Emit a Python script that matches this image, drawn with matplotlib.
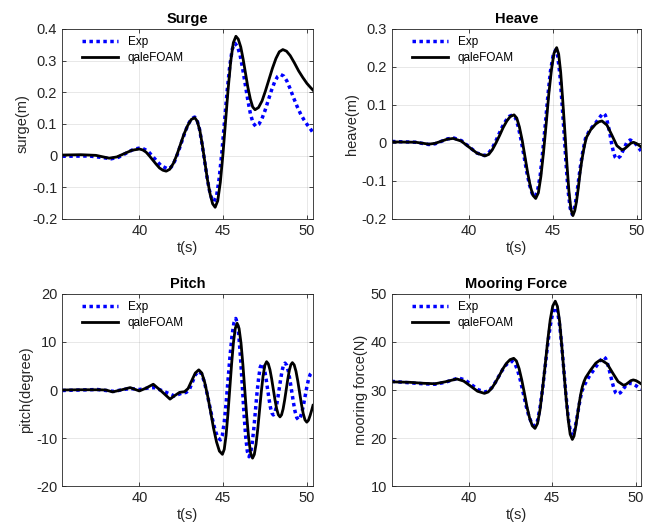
import matplotlib
matplotlib.use('Agg')
import matplotlib.pyplot as plt

plt.rcParams['font.family'] = ['Liberation Sans', 'DejaVu Sans']

# values, (time s, value)
surge_exp = [(35.4, -0.002), (37.0, -0.001), (37.8, -0.006), (38.3, -0.010), (38.75, -0.005),
             (39.2, 0.0075), (39.65, 0.020), (40.1, 0.025), (40.5, 0.015), (40.9, -0.009),
             (41.3, -0.032), (41.7, -0.042), (41.9, -0.036), (42.1, -0.018), (42.3, 0.009),
             (42.5, 0.040), (42.7, 0.071), (42.9, 0.098), (43.1, 0.116), (43.3, 0.122),
             (43.44, 0.112), (43.59, 0.083), (43.73, 0.0395), (43.875, -0.0115), (44.02, -0.0625),
             (44.16, -0.106), (44.31, -0.135), (44.45, -0.145), (44.61, -0.126), (44.76, -0.072),
             (44.92, 0.0095), (45.075, 0.105), (45.23, 0.2005), (45.39, 0.282), (45.54, 0.336),
             (45.7, 0.355), (45.855, 0.345), (46.01, 0.317), (46.165, 0.274), (46.32, 0.224),
             (46.475, 0.174), (46.63, 0.131), (46.785, 0.103), (46.94, 0.093), (47.13, 0.099),
             (47.315, 0.117), (47.5, 0.143), (47.69, 0.1745), (47.88, 0.206), (48.065, 0.232),
             (48.25, 0.250), (48.44, 0.256), (48.62, 0.251), (48.8, 0.236), (49.0, 0.211),
             (49.2, 0.183), (49.4, 0.157), (49.6, 0.134), (49.8, 0.115), (50.0, 0.099),
             (50.2, 0.085), (50.36, 0.073)]
surge_cfd = [(35.4, 0.002), (36.5, 0.003), (37.4, 0.001), (38.2, -0.008), (38.65, -0.004),
             (39.1, 0.0065), (39.55, 0.017), (40.0, 0.021), (40.2, 0.018), (40.4, 0.011),
             (40.6, -0.001), (40.8, -0.014), (41.0, -0.027), (41.2, -0.039), (41.4, -0.046),
             (41.6, -0.049), (41.81, -0.043), (42.03, -0.024), (42.24, 0.003), (42.45, 0.0355),
             (42.66, 0.068), (42.88, 0.095), (43.09, 0.114), (43.3, 0.120), (43.45, 0.109),
             (43.61, 0.079), (43.76, 0.0325), (43.91, -0.0215), (44.06, -0.0756), (44.22, -0.1213),
             (44.37, -0.152), (44.52, -0.163), (44.675, -0.1425), (44.83, -0.084), (44.985, 0.0039),
             (45.14, 0.107), (45.295, 0.2101), (45.45, 0.298), (45.605, 0.3565), (45.76, 0.377),
             (45.9, 0.368), (46.05, 0.343), (46.19, 0.305), (46.33, 0.261), (46.47, 0.217),
             (46.62, 0.179), (46.76, 0.154), (46.9, 0.145), (47.11, 0.152), (47.32, 0.173),
             (47.52, 0.204), (47.73, 0.240), (47.94, 0.276), (48.15, 0.307), (48.35, 0.328),
             (48.56, 0.335), (48.78, 0.330), (49.0, 0.316), (49.25, 0.293), (49.5, 0.268),
             (49.75, 0.247), (50.0, 0.228), (50.2, 0.216), (50.36, 0.207)]

heave_exp = [(35.4, 0.004), (36.8, 0.002), (37.6, -0.004), (37.98, -0.002), (38.35, 0.0045),
             (38.73, 0.011), (39.1, 0.013), (39.55, 0.006), (40.0, -0.010), (40.45, -0.026),
             (40.9, -0.033), (41.11, -0.029), (41.33, -0.017), (41.54, 0.0), (41.75, 0.0205),
             (41.96, 0.041), (42.18, 0.058), (42.39, 0.070), (42.6, 0.074), (42.77, 0.0658),
             (42.93, 0.043), (43.1, 0.0076), (43.27, -0.0335), (43.43, -0.0746), (43.6, -0.110),
             (43.76, -0.133), (43.93, -0.141), (44.08, -0.126), (44.24, -0.085), (44.39, -0.022),
             (44.55, 0.052), (44.7, 0.126), (44.85, 0.189), (45.01, 0.230), (45.16, 0.245),
             (45.28, 0.229), (45.41, 0.182), (45.53, 0.111), (45.66, 0.0285), (45.78, -0.054),
             (45.9, -0.125), (46.03, -0.172), (46.15, -0.188), (46.25, -0.176), (46.35, -0.155),
             (46.45, -0.124), (46.55, -0.090), (46.65, -0.058), (46.75, -0.030), (46.85, -0.007),
             (46.94, 0.012), (47.2, 0.035), (47.5, 0.050), (47.8, 0.068), (47.92, 0.075),
             (48.02, 0.078), (48.12, 0.0734), (48.22, 0.060), (48.32, 0.041), (48.42, 0.018),
             (48.51, -0.005), (48.61, -0.024), (48.71, -0.0374), (48.81, -0.042), (49.01, -0.035),
             (49.21, -0.017), (49.4, 0.001), (49.6, 0.008), (49.8, 0.004), (50.0, -0.006),
             (50.25, -0.021)]
heave_cfd = [(35.4, 0.003), (36.8, 0.002), (37.6, -0.003), (37.96, -0.001), (38.33, 0.0045),
             (38.69, 0.010), (39.05, 0.012), (39.53, 0.005), (40.0, -0.011), (40.48, -0.027),
             (40.95, -0.034), (41.17, -0.030), (41.38, -0.018), (41.6, 0.0), (41.82, 0.020),
             (42.03, 0.0406), (42.25, 0.058), (42.46, 0.070), (42.68, 0.074), (42.84, 0.0656),
             (43.0, 0.042), (43.17, 0.006), (43.33, -0.036), (43.49, -0.078), (43.65, -0.114),
             (43.81, -0.138), (43.97, -0.146), (44.13, -0.131), (44.28, -0.088), (44.44, -0.023),
             (44.6, 0.0525), (44.75, 0.128), (44.91, 0.193), (45.06, 0.236), (45.22, 0.251),
             (45.34, 0.234), (45.46, 0.186), (45.58, 0.114), (45.71, 0.030), (45.83, -0.054),
             (45.95, -0.126), (46.07, -0.174), (46.19, -0.191), (46.3, -0.178), (46.4, -0.155),
             (46.5, -0.122), (46.6, -0.085), (46.7, -0.052), (46.8, -0.025), (46.9, -0.003),
             (47.0, 0.015), (47.25, 0.035), (47.55, 0.050), (47.75, 0.056), (47.92, 0.058),
             (48.22, 0.047), (48.52, 0.020), (48.81, -0.007), (49.11, -0.018), (49.28, -0.015),
             (49.46, -0.008), (49.63, -0.001), (49.8, 0.002), (50.0, -0.002), (50.25, -0.010)]

pitch_exp = [(35.4, -0.1), (36.5, 0.0), (37.5, 0.1), (38.0, -0.1), (38.5, -0.3), (39.0, 0.1),
             (39.5, 0.3), (40.0, 0.1), (40.5, 0.4), (40.9, 0.5), (41.4, -0.2), (42.1, -1.25),
             (42.5, -0.7), (42.8, -0.5), (42.99, 0.14), (43.175, 1.7), (43.36, 3.26), (43.55, 3.9),
             (43.71, 3.36), (43.87, 1.81), (44.03, -0.52), (44.195, -3.25), (44.36, -5.98),
             (44.52, -8.31), (44.68, -9.86), (44.84, -10.4), (44.955, -9.44), (45.07, -6.71),
             (45.185, -2.58), (45.3, 2.25), (45.415, 7.08), (45.53, 11.21), (45.645, 13.94),
             (45.76, 14.9), (45.86, 13.81), (45.955, 10.7), (46.055, 6.0), (46.155, 0.5),
             (46.25, -5.0), (46.35, -9.7), (46.45, -12.8), (46.55, -13.9), (46.65, -13.16),
             (46.74, -11.07), (46.84, -7.91), (46.935, -4.2), (47.03, -0.49), (47.13, 2.67),
             (47.22, 4.76), (47.32, 5.5), (47.405, 5.09), (47.49, 3.94), (47.575, 2.19),
             (47.66, 0.15), (47.745, -1.89), (47.83, -3.64), (47.915, -4.79), (48.0, -5.2),
             (48.09, -4.79), (48.175, -3.62), (48.26, -1.86), (48.35, 0.2), (48.44, 2.26),
             (48.525, 4.02), (48.61, 5.19), (48.7, 5.6), (48.8, 5.15), (48.9, 3.88), (49.0, 1.95),
             (49.1, -0.3), (49.2, -2.55), (49.3, -4.48), (49.4, -5.75), (49.5, -6.2), (49.6, -5.83),
             (49.7, -4.77), (49.8, -3.17), (49.9, -1.3), (50.0, 0.57), (50.1, 2.17), (50.2, 3.23),
             (50.3, 3.6), (50.37, 3.5)]
pitch_cfd = [(35.4, 0.0), (36.5, 0.05), (37.5, 0.05), (38.0, 0.0), (38.4, -0.4), (38.9, 0.0),
             (39.45, 0.5), (40.0, -0.2), (40.4, 0.4), (40.83, 1.2), (41.3, -0.2), (41.83, -1.9),
             (42.1, -1.2), (42.4, -0.5), (42.7, -0.35), (42.91, 0.31), (43.125, 1.93), (43.34, 3.54),
             (43.55, 4.2), (43.73, 3.53), (43.9, 1.63), (44.08, -1.24), (44.26, -4.6), (44.43, -7.96),
             (44.61, -10.83), (44.78, -12.73), (44.96, -13.4), (45.07, -12.36), (45.18, -9.41),
             (45.29, -4.96), (45.4, 0.25), (45.51, 5.46), (45.62, 9.91), (45.73, 12.86), (45.84, 13.9),
             (45.955, 12.83), (46.07, 9.80), (46.185, 5.22), (46.3, -0.15), (46.415, -5.52),
             (46.53, -10.1), (46.645, -13.13), (46.76, -14.2), (46.865, -13.44), (46.97, -11.27),
             (47.075, -7.99), (47.18, -4.15), (47.285, -0.31), (47.39, 2.97), (47.495, 5.14),
             (47.6, 5.9), (47.7, 5.46), (47.8, 4.22), (47.9, 2.35), (48.0, 0.15), (48.1, -2.05),
             (48.2, -3.92), (48.3, -5.16), (48.4, -5.6), (48.4925, -5.17), (48.585, -3.95),
             (48.6775, -2.11), (48.77, 0.05), (48.8625, 2.21), (48.955, 4.05), (49.0475, 5.27),
             (49.14, 5.7), (49.2475, 5.23), (49.355, 3.89), (49.4625, 1.87), (49.57, -0.5),
             (49.6775, -2.87), (49.785, -4.89), (49.8925, -6.23), (50.0, -6.7), (50.1, -6.3),
             (50.2, -5.3), (50.3, -4.1), (50.37, -3.2)]

moor_exp = [(35.4, 31.8), (36.5, 31.5), (37.3, 31.3), (38.0, 31.2), (38.6, 31.6), (39.4, 32.5),
            (39.8, 32.08), (40.2, 31.05), (40.6, 30.02), (41.0, 29.6), (41.2, 29.84), (41.4, 30.53),
            (41.6, 31.58), (41.8, 32.8), (42.0, 34.02), (42.2, 35.07), (42.4, 35.76), (42.6, 36.0),
            (42.77, 35.49), (42.94, 34.03), (43.11, 31.83), (43.275, 29.25), (43.44, 26.67),
            (43.61, 24.47), (43.78, 23.01), (43.95, 22.5), (44.11, 23.44), (44.26, 26.11),
            (44.42, 30.13), (44.575, 34.85), (44.73, 39.57), (44.89, 43.59), (45.04, 46.26),
            (45.2, 47.2), (45.325, 46.19), (45.45, 43.3), (45.575, 38.95), (45.7, 33.85),
            (45.825, 28.75), (45.95, 24.4), (46.075, 21.51), (46.2, 20.5), (46.3, 21.2),
            (46.4, 22.8), (46.5, 24.7), (46.6, 26.8), (46.7, 28.6), (46.8, 30.0), (46.95, 31.2),
            (47.2, 32.8), (47.5, 34.3), (47.8, 35.8), (47.95, 36.5), (48.08, 36.9), (48.18, 36.6),
            (48.28, 35.76), (48.38, 34.49), (48.485, 33.0), (48.59, 31.51), (48.69, 30.24),
            (48.79, 29.4), (48.89, 29.1), (49.07, 29.44), (49.25, 30.25), (49.42, 31.06),
            (49.6, 31.4), (49.8, 31.3), (50.0, 30.9), (50.15, 30.5), (50.3, 30.2)]
moor_cfd = [(35.4, 31.7), (36.5, 31.6), (37.3, 31.4), (38.0, 31.3), (38.6, 31.7), (39.3, 32.3),
            (39.71, 31.86), (40.13, 30.8), (40.54, 29.74), (40.95, 29.3), (41.17, 29.58),
            (41.39, 30.37), (41.61, 31.56), (41.83, 32.95), (42.04, 34.34), (42.26, 35.53),
            (42.48, 36.32), (42.7, 36.6), (42.86, 36.05), (43.02, 34.47), (43.18, 32.09),
            (43.34, 29.3), (43.49, 26.51), (43.65, 24.13), (43.81, 22.55), (43.97, 22.0),
            (44.12, 23.01), (44.27, 25.87), (44.42, 30.19), (44.58, 35.25), (44.73, 40.31),
            (44.88, 44.63), (45.03, 47.49), (45.18, 48.5), (45.31, 47.41), (45.44, 44.3),
            (45.56, 39.6), (45.69, 34.1), (45.82, 28.6), (45.95, 23.9), (46.07, 20.79),
            (46.2, 19.7), (46.3, 20.4), (46.4, 22.3), (46.5, 24.6), (46.6, 27.0), (46.7, 29.1),
            (46.8, 30.7), (46.9, 31.8), (47.0, 32.6), (47.3, 34.2), (47.6, 35.6), (47.8, 36.1),
            (47.95, 36.2), (48.28, 35.44), (48.6, 33.6), (48.93, 31.76), (49.25, 31.0),
            (49.4, 31.16), (49.55, 31.55), (49.69, 31.94), (49.84, 32.1), (50.0, 31.95),
            (50.15, 31.65), (50.3, 31.3)]

x_ticks = [40, 45, 50]

panels = [
    ('Surge', 'surge(m)', surge_exp, surge_cfd, (35.38, 50.36), (-0.2, 0.4),
     [-0.2, -0.1, 0, 0.1, 0.2, 0.3, 0.4], ['-0.2', '-0.1', '0', '0.1', '0.2', '0.3', '0.4'],
     [0.0957, 0.5868, 0.3873, 0.3585]),
    ('Heave', 'heave(m)', heave_exp, heave_cfd, (35.4, 50.25), (-0.2, 0.3),
     [-0.2, -0.1, 0, 0.1, 0.2, 0.3], ['-0.2', '-0.1', '0', '0.1', '0.2', '0.3'],
     [0.6049, 0.5868, 0.3843, 0.3585]),
    ('Pitch', 'pitch(degree)', pitch_exp, pitch_cfd, (35.38, 50.37), (-20, 20),
     [-20, -10, 0, 10, 20], ['-20', '-10', '0', '10', '20'],
     [0.0957, 0.0830, 0.3873, 0.3623]),
    ('Mooring Force', 'mooring force(N)', moor_exp, moor_cfd, (35.43, 50.3), (10, 50),
     [10, 20, 30, 40, 50], ['10', '20', '30', '40', '50'],
     [0.6049, 0.0830, 0.3843, 0.3623]),
]

fig = plt.figure(figsize=(6.48, 5.30), dpi=100)
edge = '#262626'

for title, ylab, exp, cfd, xl, yl, yt, ytl, pos in panels:
    ax = fig.add_axes(pos)
    te, ye = zip(*exp)
    tc, yc = zip(*cfd)
    ax.plot(te, ye, color='#0000ff', linestyle=(0, (1, 1)), linewidth=2.5, label='Exp')
    ax.plot(tc, yc, color='black', linewidth=2.0, solid_joinstyle='round', label='qaleFOAM')
    ax.set_xlim(xl)
    ax.set_ylim(yl)
    ax.set_xticks(x_ticks)
    ax.set_yticks(yt)
    ax.set_yticklabels(ytl)
    ax.grid(True, color=edge, alpha=0.12, linewidth=0.6)
    ax.tick_params(direction='in', length=3, width=0.6, labelsize=10.5,
                   colors=edge, top=True, right=True, labeltop=False, labelright=False)
    for s in ax.spines.values():
        s.set_color(edge)
        s.set_linewidth(0.6)
    ax.set_title(title, fontsize=10.5, fontweight='bold', color='black', pad=4)
    ax.set_xlabel('t(s)', fontsize=10.5, color=edge, labelpad=2)
    ax.set_ylabel(ylab, fontsize=10.5, color=edge, labelpad=2)
    ax.legend(loc='upper left', bbox_to_anchor=(0.05, 1.0), frameon=False, fontsize=8.5,
              handlelength=3.1, borderaxespad=0.2, labelspacing=0.35)

fig.savefig('out.png', dpi=100)
